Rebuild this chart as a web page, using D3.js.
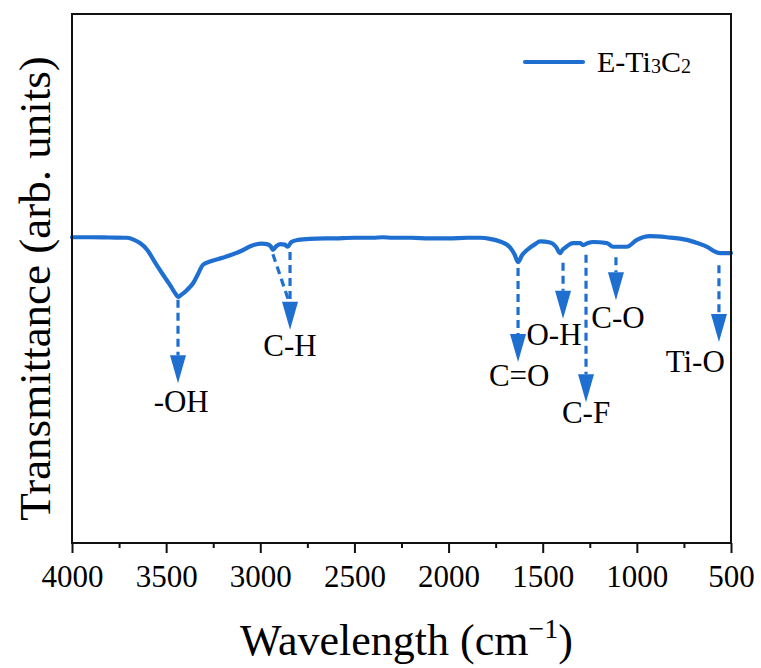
<!DOCTYPE html>
<html>
<head>
<meta charset="utf-8">
<script src="https://cdn.jsdelivr.net/npm/d3@7/dist/d3.min.js"></script>
<style>
  html, body { margin: 0; padding: 0; background: #fff; }
  svg { display: block; }
</style>
</head>
<body>
<svg id="chart" width="761" height="668"></svg>
<script>
// ---- Data ----
const wavenumbers = [4000, 3900, 3800, 3708, 3670, 3639, 3600, 3560, 3520, 3480, 3450, 3437, 3420, 3390, 3357, 3330, 3304, 3267, 3200, 3108, 3039, 2990, 2965, 2945, 2933, 2915, 2895, 2870, 2854, 2835, 2800, 2736, 2600, 2500, 2400, 2350, 2300, 2200, 2100, 2000, 1900, 1833, 1780, 1727, 1674, 1650, 1631, 1610, 1583, 1540, 1514, 1461, 1430, 1408, 1395, 1382, 1339, 1300, 1286, 1260, 1233, 1159, 1127, 1090, 1053, 1000, 930, 840, 734, 680, 627, 580, 558, 530, 500];
const transmittance = [57.8, 57.8, 57.75, 57.7, 57.3, 56.7, 55.4, 53.1, 50.9, 48.8, 47.1, 46.5, 46.9, 47.8, 49.1, 50.9, 52.6, 53.2, 53.9, 55.1, 56.3, 56.6, 56.5, 56.1, 55.4, 56.1, 56.5, 56.4, 56.0, 56.9, 57.3, 57.5, 57.6, 57.7, 57.7, 57.8, 57.7, 57.7, 57.6, 57.6, 57.7, 57.7, 57.5, 57.0, 55.9, 54.6, 53.1, 54.4, 55.4, 56.5, 57.0, 56.8, 56.0, 54.8, 55.4, 55.8, 56.7, 56.7, 56.3, 56.7, 56.9, 56.7, 56.0, 56.0, 56.0, 57.3, 58.0, 57.8, 57.3, 56.7, 56.0, 55.0, 54.8, 54.8, 54.8];
const seriesName = "E-Ti3C2";

const xTickValues = [4000, 3500, 3000, 2500, 2000, 1500, 1000, 500];
const xMinorTicks = [3750, 3250, 2750, 2250, 1750, 1250, 750];

// annotations: label, arrow wavenumber, dashed start value, arrow tip value, label wavenumber, label baseline value
const annLabels = ["-OH", "C-H", "C=O", "O-H", "C-F", "C-O", "Ti-O"];
const annArrowX = [3437, 2842, 1631, 1392, 1270, 1111, 564];
const annStartY = [46.0, 55.0, 52.0, 53.0, 54.5, 54.0, 52.5];
const annTipY = [30.2, 40.3, 34.2, 42.4, 26.6, 45.9, 38.0];
const annLabelX = [3420, 2842, 1625, 1440, 1270, 1100, 690];
const annLabelY = [24.7, 35.3, 29.7, 37.4, 22.7, 40.6, 32.3];
// C-H has a second, slanted dashed line from the 2933 shoulder
const chSlantStartX = 2933;
const chSlantStartY = 54.6;

// ---- Layout ----
const W = 761, H = 668;
const margin = { left: 72, right: 30, top: 14, bottom: 125 };
const plotW = W - margin.left - margin.right; // 659
const plotH = H - margin.top - margin.bottom; // 529
const blue = "#1f6fd0";
const serif = "'Liberation Serif', 'Times New Roman', Times, serif";

const svg = d3.select("#chart").style("font-family", serif);

const x = d3.scaleLinear().domain([4000, 500]).range([margin.left, margin.left + plotW]);
const y = d3.scaleLinear().domain([0, 100]).range([margin.top + plotH, margin.top]);

const data = wavenumbers.map((w, i) => ({ w, t: transmittance[i] }));

// Curve
const line = d3.line().x(d => x(d.w)).y(d => y(d.t)).curve(d3.curveMonotoneX);
svg.append("path")
  .datum(data)
  .attr("d", line)
  .attr("fill", "none")
  .attr("stroke", blue)
  .attr("stroke-width", 4.2)
  .attr("stroke-linejoin", "round")
  .attr("stroke-linecap", "round");

// Frame
svg.append("rect")
  .attr("x", margin.left).attr("y", margin.top)
  .attr("width", plotW).attr("height", plotH)
  .attr("fill", "none").attr("stroke", "#111").attr("stroke-width", 2);

// Bottom axis
const xAxis = d3.axisBottom(x).tickValues(xTickValues).tickSize(10).tickPadding(12).tickFormat(d3.format("d"));
const gx = svg.append("g").attr("transform", `translate(0,${margin.top + plotH})`).call(xAxis);
gx.attr("font-family", null).attr("font-size", null);
gx.select(".domain").remove();
gx.selectAll(".tick line").attr("stroke", "#111").attr("stroke-width", 2);
gx.selectAll(".tick text")
  .style("font-family", serif)
  .attr("font-size", 31).attr("fill", "#000");

const xAxisMinor = d3.axisBottom(x).tickValues(xMinorTicks).tickSize(5).tickFormat("");
const gxm = svg.append("g").attr("transform", `translate(0,${margin.top + plotH})`).call(xAxisMinor);
gxm.select(".domain").remove();
gxm.selectAll(".tick line").attr("stroke", "#111").attr("stroke-width", 2);

// Axis titles
const xt = svg.append("text")
  .style("font-family", serif)
  .attr("x", margin.left + plotW / 2 + 5).attr("y", 655)
  .attr("text-anchor", "middle").attr("font-size", 44);
xt.append("tspan").text("Wavelength (cm");
xt.append("tspan").attr("font-size", 28).attr("dy", -17).text("\u22121");
xt.append("tspan").attr("dy", 17).text(")");

svg.append("text")
  .style("font-family", serif)
  .attr("transform", `translate(50,${margin.top + plotH / 2 + 10}) rotate(-90)`)
  .attr("text-anchor", "middle").attr("font-size", 45)
  .text("Transmittance (arb. units)");

// Legend
svg.append("line")
  .attr("x1", 525).attr("x2", 583).attr("y1", 62).attr("y2", 62)
  .attr("stroke", blue).attr("stroke-width", 4.2).attr("stroke-linecap", "round");
const lt = svg.append("text").style("font-family", serif)
  .attr("x", 597).attr("y", 72).attr("font-size", 30);
lt.append("tspan").text("E-Ti");
lt.append("tspan").attr("font-size", 20).attr("dy", 1).text("3");
lt.append("tspan").attr("dy", -1).text("C");
lt.append("tspan").attr("font-size", 20).attr("dy", 1).text("2");

// Annotations
const headH = 28, headW = 16;
function arrow(x1, y1, x2, y2) {
  const dx = x2 - x1, dy = y2 - y1, len = Math.hypot(dx, dy);
  const ux = dx / len, uy = dy / len;
  const bx = x2 - ux * headH, by = y2 - uy * headH;
  svg.append("line")
    .attr("x1", x1).attr("y1", y1).attr("x2", bx).attr("y2", by)
    .attr("stroke", blue).attr("stroke-width", 3.2).attr("stroke-dasharray", "8,5");
  const px = -uy * headW / 2, py = ux * headW / 2;
  svg.append("path")
    .attr("d", `M${bx + px},${by + py}L${bx - px},${by - py}L${x2},${y2}Z`)
    .attr("fill", blue);
}
function shaft(x1, y1, x2, y2) {
  svg.append("line")
    .attr("x1", x1).attr("y1", y1).attr("x2", x2).attr("y2", y2)
    .attr("stroke", blue).attr("stroke-width", 3.2).attr("stroke-dasharray", "8,5");
}

annLabels.forEach((lab, i) => {
  arrow(x(annArrowX[i]), y(annStartY[i]), x(annArrowX[i]), y(annTipY[i]));
  svg.append("text")
    .style("font-family", serif)
    .attr("x", x(annLabelX[i])).attr("y", y(annLabelY[i]))
    .attr("text-anchor", "middle").attr("font-size", 31)
    .text(lab);
});
// slanted C-H line
shaft(x(chSlantStartX), y(chSlantStartY), x(annArrowX[1]) - 1, y(annTipY[1]) - headH);
</script>
</body>
</html>
